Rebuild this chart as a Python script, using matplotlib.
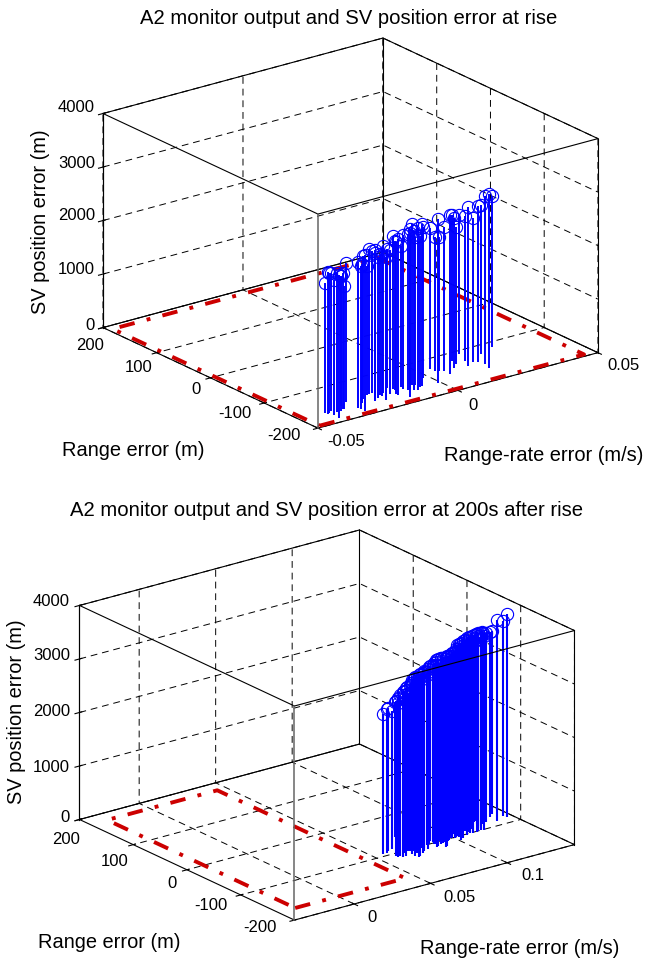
"""
A2 monitor output and SV position error, two 3D stem panels.
"""
import matplotlib
matplotlib.use("Agg")
import matplotlib.pyplot as plt

plt.rcParams["font.family"] = ["Liberation Sans", "DejaVu Sans"]
plt.rcParams["grid.color"] = "black"
plt.rcParams["grid.linewidth"] = 0.7
plt.rcParams["grid.linestyle"] = (0, (7, 5))

W, H = 649, 961

# at rise: range-rate error (mm/s), range error (m), SV position error (m)
rise_rr = [-41, -41, -40, -40, -38, -40, -35, -35, -31, -31, -31, -31, -23, -21, -23, -22, -20, -21, -15,
           -17, -14, -16, -11, -11, -14, -10, -7, -9, -7, -2, 4, 4, -1, 5, 6, 6, 13, 10, 12, 18, 16, 14,
           17, 18, 23, 19, 18, 29,
           -38.5, -36.5, -34, -28, -26, -24, -22, -20, -18, -16, -14, -12, -10, -8, -6]
rise_range = [-166, -172, -169, -177, -173, -188, -168, -170, -154, -176, -181, -188, -151, -149, -165,
              -166, -160, -176, -147, -163, -156, -172, -152, -164, -183, -163, -157, -172, -165, -145,
              -128, -136, -169, -139, -142, -154, -121, -140, -133, -109, -130, -146, -140, -143, -124,
              -152, -164, -113,
              -165, -172, -160, -168, -158, -170, -150, -162, -155, -168, -152, -160, -170, -156, -164]
rise_pos = [2419, 2667, 2605, 2524, 2605, 2667, 2543, 2295, 2605, 2729, 2667, 2915, 2419, 2667, 2791, 2636,
            2636, 2667, 2605, 2698, 2791, 2915, 2636, 2915, 3132, 2915, 2760, 3039, 2822, 2822, 2636, 2512,
            3070, 2512, 2698, 2977, 2729, 2791, 2574, 2605, 2698, 2977, 2698, 2915, 2791, 3132, 3256, 2822,
            2570, 2530, 2420, 2610, 2690, 2770, 2715, 2640, 2750, 2845, 2865, 2890, 2975, 3010, 3030]

# 200 s after rise
after_rr = [56, 59, 61, 64, 76, 60, 60, 62, 62, 66, 64, 72, 70, 72, 68, 72, 68, 71, 69, 70, 74, 76, 79, 79,
            84, 87, 90, 88, 87, 85, 86, 89, 89, 91, 89, 90, 95, 99, 102, 103, 102, 103, 103, 107, 101, 104,
            111, 116, 114, 111, 115, 122, 124, 122, 119, 122, 127, 124, 127, 133, 137, 133, 140, 140,
            64, 65.3, 66.8, 67.9, 69.4, 70.5, 71.7, 73.2, 74.4, 75.6, 77.1, 78.3, 79.5, 80.9, 82.3, 83.5,
            84.7, 86.2, 87.4, 88.6, 90.1, 91.3, 92.5, 93.9, 95.3, 96.4, 97.8, 99.1, 100.3, 101.7, 103.1,
            104.2, 105.6, 106.9, 108.3, 109.4, 110.8, 112.2, 113.3, 114.7, 116, 117.4, 118.6, 119.8]
after_range = [-95, -93, -90, -88, -60, -108, -111, -109, -114, -104, -114, -94, -104, -101, -114, -107,
               -119, -114, -125, -124, -117, -114, -106, -112, -100, -93, -90, -98, -105, -112, -111, -108,
               -109, -106, -118, -117, -105, -98, -91, -92, -99, -98, -101, -92, -112, -107, -91, -80, -89,
               -99, -92, -76, -73, -82, -92, -89, -77, -87, -84, -74, -67, -88, -78, -85,
               -100, -96, -104, -99, -102, -97, -103, -100, -95, -101, -98, -104, -99, -96, -102, -100,
               -97, -103, -98, -101, -95, -100, -104, -97, -99, -102, -96, -100, -103, -98, -101,
               -97, -100, -95, -102, -99, -96, -101, -98, -103, -100, -97, -99, -101]
after_pos = [2623, 2685, 2673, 2593, 2531, 2901, 2975, 2994, 3086, 3025, 3136, 3006, 3105, 3117, 3253, 3228,
             3333, 3296, 3395, 3407, 3364, 3352, 3302, 3364, 3302, 3265, 3241, 3340, 3438, 3500, 3506, 3475,
             3488, 3457, 3543, 3549, 3457, 3426, 3395, 3414, 3500, 3568, 3593, 3531, 3685, 3673, 3562, 3506,
             3580, 3654, 3617, 3506, 3488, 3549, 3636, 3611, 3519, 3580, 3549, 3457, 3426, 3747, 3642, 3796,
             2800, 2830, 2880, 2900, 2950, 2980, 3010, 3050, 3070, 3110, 3120, 3150, 3160, 3170, 3190, 3230,
             3260, 3300, 3320, 3310, 3330, 3300, 3340, 3330, 3360, 3350, 3380, 3400, 3390, 3430, 3460, 3470,
             3510, 3500, 3540, 3560, 3570, 3590, 3560, 3600, 3590, 3610, 3600, 3620]

# threshold boxes
rise_box_rr = [-0.0485, 0.046]
rise_box_range = [-195, 190]
after_box_rr = [-0.028, 0.044]
after_box_range = [-170, 180]

range_ticks = [-200, -100, 0, 100, 200]
pos_ticks = [0, 1000, 2000, 3000, 4000]
rise_rr_ticks = [-0.05, 0, 0.05]
after_rr_ticks = [0, 0.05, 0.1]
rise_xlim = (-0.05, 0.05)
after_xlim = (-0.039, 0.144)


def px_text(x, y, s, **kw):
    kw.setdefault("ha", "center")
    kw.setdefault("va", "center")
    fig.text(x / W, 1 - y / H, s, **kw)


def panel(rect, rr, rng, pos, xlim, xticks, box_rr, box_range, stem_lw):
    ax = fig.add_axes(rect, projection="3d", proj_type="ortho", computed_zorder=False)
    ax.view_init(elev=20.8, azim=-127.2)
    ax.set_box_aspect((350, 354, 228), zoom=1.111)
    ax.set_xlim(*xlim)
    ax.set_ylim(-200, 200)
    ax.set_zlim(0, 4000)
    ax.set_xticks(xticks)
    ax.set_yticks(range_ticks)
    ax.set_zticks(pos_ticks)
    ax.set_xticklabels([])
    ax.set_yticklabels([])
    ax.set_zticklabels([])
    ax.patch.set_alpha(0)
    for a in (ax.xaxis, ax.yaxis, ax.zaxis):
        a.set_pane_color((1, 1, 1, 0))

    x0, x1 = xlim
    # back edges sit under the stems
    back = [([x1, x1], [200, 200], [0, 4000]), ([x0, x1], [200, 200], [0, 0]), ([x1, x1], [-200, 200], [0, 0]),
            ([x1, x1], [-200, -200], [0, 4000]), ([x0, x0], [200, 200], [0, 4000])]
    for ex, ey, ez in back:
        ax.plot(ex, ey, ez, color="black", lw=0.8, zorder=1, clip_on=False)

    bx0, bx1 = box_rr
    by0, by1 = box_range
    ax.plot([bx0, bx1, bx1, bx0, bx0], [by0, by0, by1, by1, by0], [0, 0, 0, 0, 0], color="#cc0000", lw=2.8,
            ls=(0, (4.0, 3.2, 1.0, 3.2)), zorder=1.5, clip_on=False)

    ml, sl, bl = ax.stem([v / 1000 for v in rr], rng, pos, linefmt="b-", markerfmt="bo", basefmt=" ")
    ml.set_markerfacecolor("none")
    ml.set_markersize(8.8)
    ml.set_markeredgewidth(0.8)
    ml.set_zorder(2.1)
    ml.set_clip_on(False)
    sl.set_linewidth(stem_lw)
    sl.set_zorder(2)
    sl.set_clip_on(False)

    # front edges are drawn over the stems
    front = [([x0, x1], [-200, -200], [4000, 4000]), ([x0, x0], [-200, 200], [4000, 4000]),
             ([x1, x1], [-200, 200], [4000, 4000]), ([x0, x1], [200, 200], [4000, 4000])]
    for ex, ey, ez in front:
        ax.plot(ex, ey, ez, color="black", lw=0.8, zorder=3, clip_on=False)
    ax.plot([x0, x0], [-200, -200], [0, 4000], color="#666666", lw=1.1, zorder=3, clip_on=False)
    return ax


fig = plt.figure(figsize=(W / 100, H / 100), dpi=100)

panel([0.030, 0.5007, 1.0, 0.5], rise_rr, rise_range, rise_pos, rise_xlim, rise_rr_ticks,
      rise_box_rr, rise_box_range, 1.4)
panel([-0.0062, -0.0112, 1.0, 0.5], after_rr, after_range, after_pos, after_xlim, after_rr_ticks,
      after_box_rr, after_box_range, 1.5)

tick_fs = 12
for s, y in zip(pos_ticks, [325, 270, 216, 163, 108]):
    px_text(95, y, str(s), ha="right", fontsize=tick_fs)
for s, x, y in zip(range_ticks, [284, 235, 196, 139, 90], [436, 414, 390, 368, 346]):
    px_text(x, y, str(s), fontsize=tick_fs)
for s, x, y in zip(["-0.05", "0", "0.05"], [346, 473, 624], [442, 405, 366]):
    px_text(x, y, s, fontsize=tick_fs)

for s, y in zip(pos_ticks, [818, 767, 711, 656, 601]):
    px_text(70, y, str(s), ha="right", fontsize=tick_fs)
for s, x, y in zip(range_ticks, [260, 211, 172, 115, 66], [928, 906, 883, 861, 839]):
    px_text(x, y, str(s), fontsize=tick_fs)
for s, x, y in zip(["0", "0.05", "0.1"], [372, 459, 533], [918, 897, 875]):
    px_text(x, y, s, fontsize=tick_fs)

label_fs = 14.4
px_text(349, 18, "A2 monitor output and SV position error at rise", fontsize=14.6)
px_text(326, 510, "A2 monitor output and SV position error at 200s after rise", fontsize=14.6)
px_text(41, 222, "SV position error (m)", rotation=90, fontsize=label_fs)
px_text(17, 712, "SV position error (m)", rotation=90, fontsize=label_fs)
px_text(62, 450, "Range error (m)", ha="left", fontsize=label_fs)
px_text(38, 943, "Range error (m)", ha="left", fontsize=label_fs)
px_text(444, 456, "Range-rate error (m/s)", ha="left", fontsize=label_fs)
px_text(420, 948, "Range-rate error (m/s)", ha="left", fontsize=label_fs)

fig.savefig("out.png", dpi=100)
